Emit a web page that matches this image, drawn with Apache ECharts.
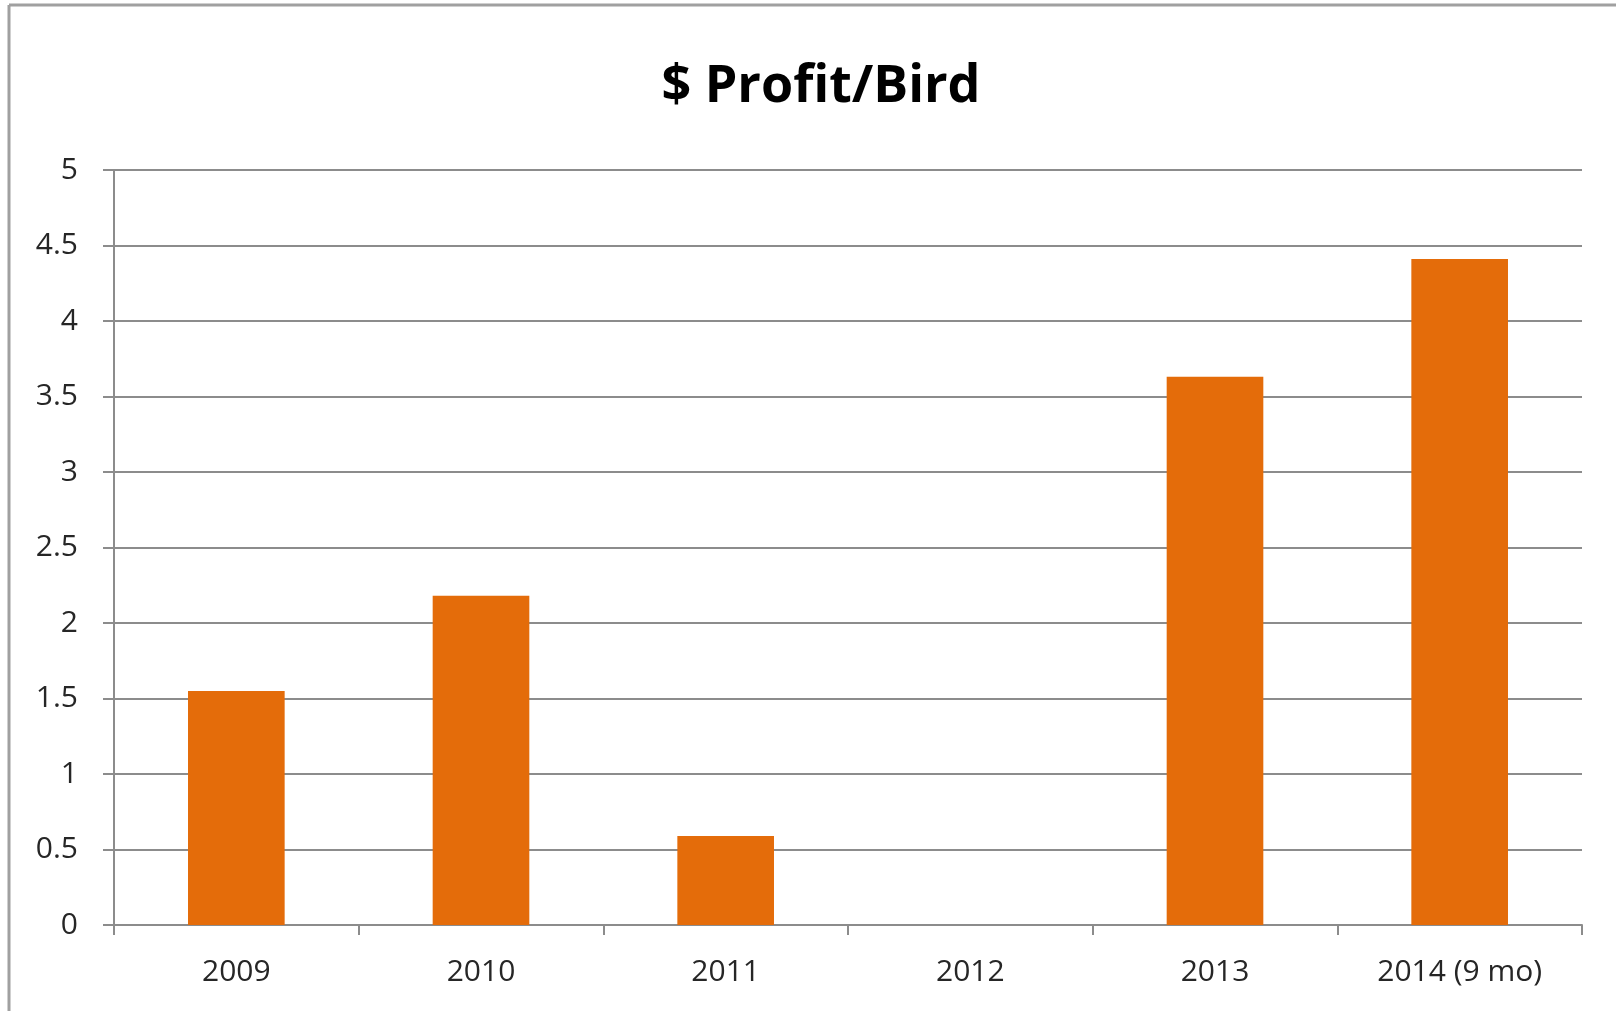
<!DOCTYPE html>
<html>
<head>
<meta charset="utf-8">
<script src="https://cdn.jsdelivr.net/npm/echarts@6/dist/echarts.min.js"></script>
<style>html,body{margin:0;padding:0;background:#fff;}#c{width:1616px;height:1011px;}</style>
</head>
<body>
<div id="c"></div>
<script>
const categories = ['2009', '2010', '2011', '2012', '2013', '2014 (9 mo)'];
const profitPerBird = [1.55, 2.18, 0.59, 0, 3.63, 4.41];
const titleText = '$ Profit/Bird';

const chart = echarts.init(document.getElementById('c'), null, {renderer: 'canvas'});
chart.setOption({
  backgroundColor: '#ffffff',
  animation: false,
  title: {
    text: titleText,
    left: 816, textAlign: 'center',
    top: 56,
    textStyle: {fontFamily: 'Open Sans', fontWeight: 'bold', fontSize: 52, color: '#000'}
  },
  graphic: [
    {type: 'line', shape: {x1: 9, y1: 5, x2: 9, y2: 1011}, style: {stroke: '#a0a0a0', lineWidth: 3}},
    {type: 'line', shape: {x1: 9, y1: 5, x2: 1616, y2: 5}, style: {stroke: '#a0a0a0', lineWidth: 3}}
  ],
  grid: {left: 114, right: 34, top: 170, bottom: 86, containLabel: false},
  xAxis: {
    type: 'category',
    data: categories,
    axisLine: {lineStyle: {color: '#8c8c8c', width: 2}},
    axisTick: {show: true, length: 10, lineStyle: {color: '#8c8c8c', width: 2}},
    axisLabel: {margin: 32, fontFamily: 'Open Sans', fontSize: 30, color: '#262626'}
  },
  yAxis: {
    type: 'value',
    min: 0, max: 5, interval: 0.5,
    axisLine: {show: true, lineStyle: {color: '#8c8c8c', width: 2}},
    axisTick: {show: true, length: 11, lineStyle: {color: '#8c8c8c', width: 2}},
    splitLine: {lineStyle: {color: '#8c8c8c', width: 2}},
    axisLabel: {margin: 36, fontFamily: 'Open Sans', fontSize: 30, color: '#262626'}
  },
  series: [{
    type: 'bar',
    data: profitPerBird,
    barWidth: '39.5%',
    itemStyle: {color: '#E46C0A'}
  }]
});
</script>
</body>
</html>
